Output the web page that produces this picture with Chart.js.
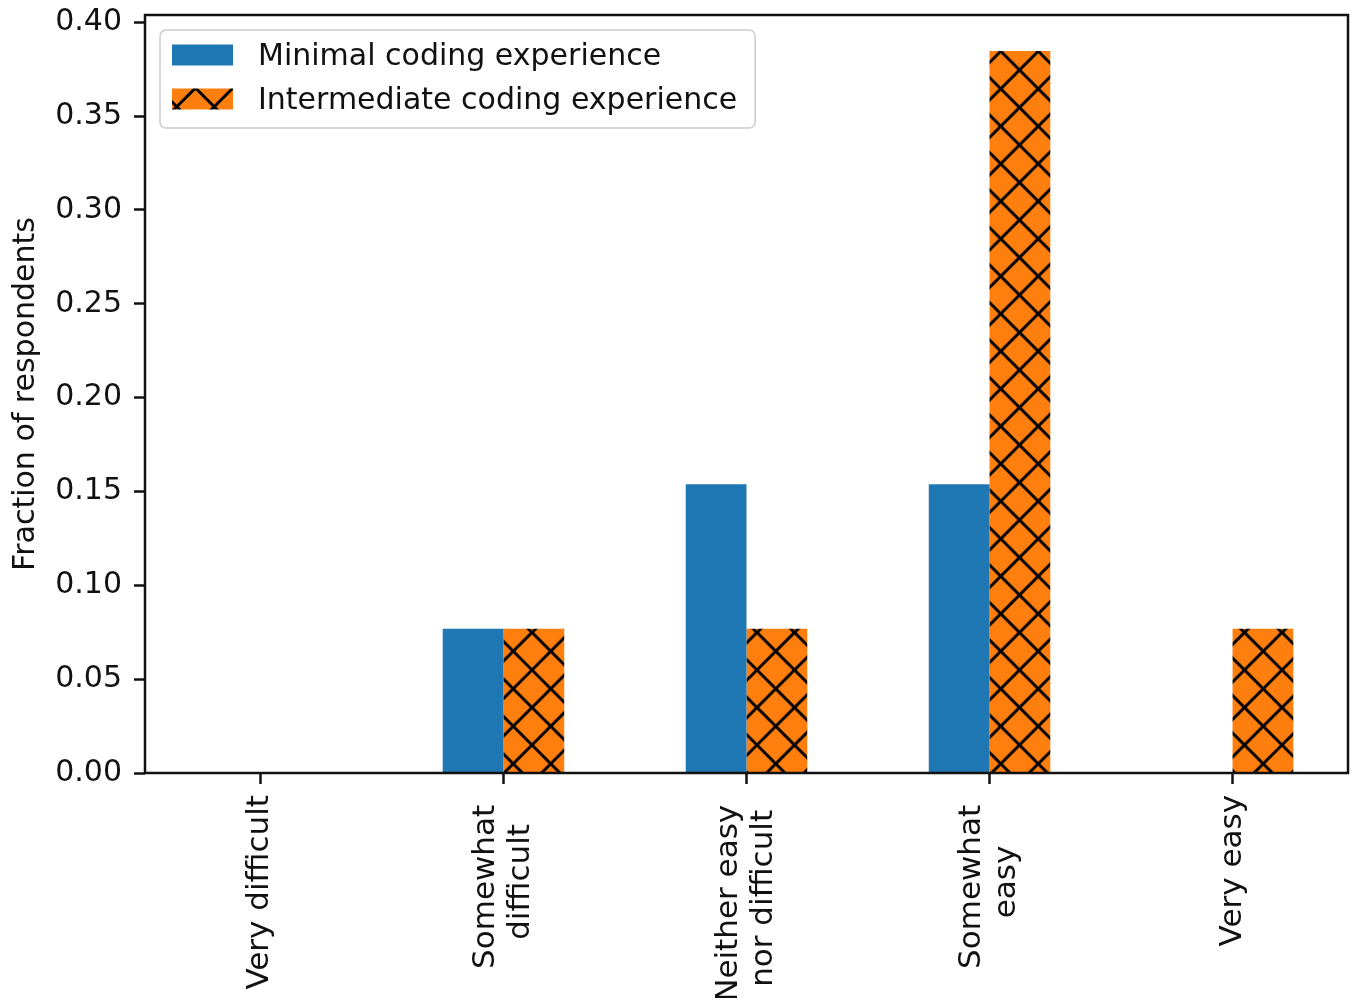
<!DOCTYPE html>
<html>
<head>
<meta charset="utf-8">
<script src="https://cdn.jsdelivr.net/npm/chart.js@4.4.1/dist/chart.umd.min.js"></script>
<style>
  html, body { margin: 0; padding: 0; background: #ffffff; }
  canvas { display: block; }
</style>
</head>
<body>
<canvas id="chart" width="1358" height="998"></canvas>
<script>
// Difficulty ratings, split into the lines printed under the axis
const categories = [
  ['Very difficult'],
  ['Somewhat ', 'difficult'],
  ['Neither easy ', 'nor difficult'],
  ['Somewhat ', 'easy'],
  ['Very easy']
];
const seriesNames = ['Minimal coding experience', 'Intermediate coding experience'];
const minimalFraction = [0, 0.0769, 0.1538, 0.1538, 0];
const intermediateFraction = [0, 0.0769, 0.0769, 0.3846, 0.0769];
const yTickValues = [0, 0.05, 0.10, 0.15, 0.20, 0.25, 0.30, 0.35, 0.40];
const yTitle = 'Fraction of respondents';

const BLUE = '#1f77b4';
const ORANGE = '#ff7f0e';
const INK = '#111111';
const FONT = '"DejaVu Sans", sans-serif';
const AXIS_W = 2.5;
const TICK_LEN = 11;

// 5% headroom above the tallest bar, as in the usual autoscaled axes
const yMax = Math.max(...minimalFraction, ...intermediateFraction) * 1.05;

const canvas = document.getElementById('chart');
const ctx2d = canvas.getContext('2d');

// Orange fill crossed by black diagonal hatch lines ("x" hatch)
function hatchPattern(color, ox, oy) {
  const period = 37.5;
  const size = period * 2;
  const tile = document.createElement('canvas');
  tile.width = size;
  tile.height = size;
  const g = tile.getContext('2d');
  g.fillStyle = color;
  g.fillRect(0, 0, size, size);
  g.strokeStyle = '#000000';
  g.lineWidth = 3;
  g.beginPath();
  for (let k = -3; k <= 5; k++) {
    const c = k * period;
    g.moveTo(c - 20, -20);
    g.lineTo(c + size + 20, size + 20);
    g.moveTo(c + 20, -20);
    g.lineTo(c - size - 20, size + 20);
  }
  g.stroke();
  const p = ctx2d.createPattern(tile, 'repeat');
  p.setTransform(new DOMMatrix([1, 0, 0, 1, ox, oy]));
  return p;
}

const barHatch = hatchPattern(ORANGE, 7, 32.5);
const legendHatch = hatchPattern(ORANGE, 8, 13);
const legendSwatches = [BLUE, legendHatch];

// Closed box around the plotting area
const frame = {
  id: 'frame',
  afterDatasetsDraw(chart) {
    const { ctx, chartArea: a } = chart;
    ctx.save();
    ctx.strokeStyle = INK;
    ctx.lineWidth = AXIS_W;
    ctx.strokeRect(a.left, a.top, a.right - a.left, a.bottom - a.top);
    ctx.restore();
  }
};

// Rotated category names, each block centred under its tick
const xCategoryLabels = {
  id: 'xCategoryLabels',
  afterDraw(chart) {
    const { ctx, chartArea } = chart;
    const xs = chart.scales.x;
    const lineStep = 35;
    const top = chartArea.bottom + TICK_LEN + 11;
    ctx.save();
    ctx.font = '31px ' + FONT;
    ctx.fillStyle = INK;
    ctx.textAlign = 'center';
    ctx.textBaseline = 'middle';
    categories.forEach((lines, i) => {
      const px = xs.getPixelForValue(i);
      const blockLen = Math.max(...lines.map(s => ctx.measureText(s).width));
      lines.forEach((s, j) => {
        ctx.save();
        ctx.translate(px + (j - (lines.length - 1) / 2) * lineStep, top + blockLen / 2);
        ctx.rotate(-Math.PI / 2);
        ctx.fillText(s, 0, 0);
        ctx.restore();
      });
    });
    ctx.restore();
  }
};

// Legend box in the upper-left corner of the plot
const legendBox = {
  id: 'legendBox',
  afterDatasetsDraw(chart) {
    const { ctx, chartArea } = chart;
    ctx.save();
    ctx.font = '30px ' + FONT;
    const labels = chart.data.datasets.map(d => d.label);
    const textW = Math.max(...labels.map(s => ctx.measureText(s).width));
    const x0 = chartArea.left + 15;
    const y0 = chartArea.top + 15;
    const swW = 61, swH = 21;
    const w = 12 + swW + 25 + textW + 18;
    const h = 98;
    ctx.beginPath();
    ctx.roundRect(x0, y0, w, h, 6);
    ctx.fillStyle = 'rgba(255,255,255,0.8)';
    ctx.fill();
    ctx.lineWidth = 1.5;
    ctx.strokeStyle = '#cccccc';
    ctx.stroke();
    labels.forEach((label, i) => {
      const cy = y0 + 25 + i * 44;
      ctx.fillStyle = legendSwatches[i];
      ctx.fillRect(x0 + 12, cy - swH / 2, swW, swH);
      ctx.fillStyle = INK;
      ctx.textAlign = 'left';
      ctx.textBaseline = 'middle';
      ctx.fillText(label, x0 + 12 + swW + 25, cy + 2);
    });
    ctx.restore();
  }
};

Chart.defaults.font.family = FONT;

new Chart(canvas, {
  type: 'bar',
  data: {
    datasets: [
      {
        label: seriesNames[0],
        data: minimalFraction.map((v, i) => ({ x: i, y: v })),
        backgroundColor: BLUE,
        borderWidth: 0
      },
      {
        label: seriesNames[1],
        data: intermediateFraction.map((v, i) => ({ x: i, y: v })),
        backgroundColor: barHatch,
        borderWidth: 0
      }
    ]
  },
  options: {
    responsive: false,
    animation: false,
    devicePixelRatio: 1,
    categoryPercentage: 0.5,
    barPercentage: 1.0,
    layout: { padding: { top: 15, right: 10, bottom: 0, left: 0 } },
    plugins: {
      legend: { display: false },
      tooltip: { enabled: false }
    },
    scales: {
      x: {
        type: 'linear',
        min: -0.475,
        max: 4.475,
        offset: false,
        border: { display: false },
        grid: {
          offset: false,
          drawOnChartArea: false,
          drawTicks: true,
          tickLength: TICK_LEN,
          tickWidth: AXIS_W,
          tickColor: INK
        },
        ticks: { display: false },
        afterBuildTicks: s => { s.ticks = categories.map((_, i) => ({ value: i })); },
        afterFit: s => { s.height = 225; s.paddingLeft = 0; s.paddingRight = 0; }
      },
      y: {
        min: 0,
        max: yMax,
        border: { display: false },
        grid: {
          drawOnChartArea: false,
          drawTicks: true,
          tickLength: TICK_LEN,
          tickWidth: AXIS_W,
          tickColor: INK
        },
        ticks: {
          color: INK,
          font: { size: 30 },
          padding: 12,
          callback: v => v.toFixed(2)
        },
        afterBuildTicks: s => { s.ticks = yTickValues.map(v => ({ value: v })); },
        afterFit: s => { s.width = 145; s.paddingTop = 0; s.paddingBottom = 0; },
        title: {
          display: true,
          text: yTitle,
          color: INK,
          font: { size: 30 },
          padding: { top: 8, bottom: 0 }
        }
      }
    }
  },
  plugins: [frame, legendBox, xCategoryLabels]
});
</script>
</body>
</html>
